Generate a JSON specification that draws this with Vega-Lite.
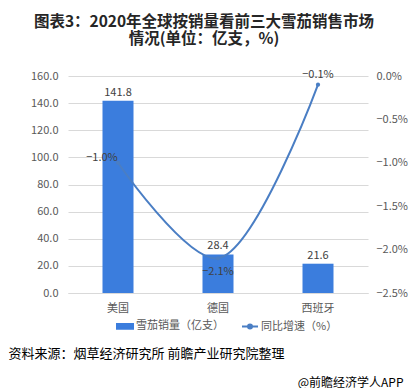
{
  "$schema": "https://vega.github.io/schema/vega-lite/v6.json",
  "autosize": {"type": "none"},
  "width": 300,
  "height": 217,
  "padding": {"left": 68, "top": 76, "right": 41, "bottom": 95},
  "background": "white",
  "config": {
    "font": "Noto Sans CJK SC",
    "view": {"stroke": null},
    "axis": {"labelFont": "Noto Sans CJK SC", "labelFontSize": 11, "labelColor": "#595959", "labelOverlap": false},
    "axisY": {"labelOverlap": false},
    "axisQuantitative": {"labelOverlap": false}
  },
  "title": {
    "text": ["图表3：2020年全球按销量看前三大雪茄销售市场", "情况(单位：亿支，%)"],
    "font": "Noto Sans CJK SC",
    "fontSize": 15.5,
    "fontWeight": "bold",
    "color": "#262626",
    "lineHeight": 17,
    "anchor": "middle",
    "dx": -14,
    "offset": 21
  },
  "data": {
    "values": [
      {"country": "美国", "sales": 141.8, "growth": -0.010},
      {"country": "德国", "sales": 28.4, "growth": -0.021},
      {"country": "西班牙", "sales": 21.6, "growth": -0.001}
    ]
  },
  "encoding": {
    "x": {
      "field": "country",
      "type": "nominal",
      "sort": null,
      "scale": {"paddingInner": 0.69, "paddingOuter": 0.345},
      "axis": {
        "labelAngle": 0,
        "ticks": false,
        "domain": true,
        "domainColor": "#d9d9d9",
        "labelPadding": 9,
        "title": "资料来源：烟草经济研究所 前瞻产业研究院整理",
        "titleFont": "Noto Sans CJK SC",
        "titleFontSize": 13,
        "titleFontWeight": "normal",
        "titleColor": "#000000",
        "titleAnchor": "start",
        "titleAlign": "left",
        "titleBaseline": "middle",
        "titleX": -60,
        "titleY": 60
      }
    }
  },
  "layer": [
    {
      "encoding": {
        "y": {
          "field": "sales",
          "type": "quantitative",
          "scale": {"domain": [0, 160]},
          "axis": {
            "values": [0, 20, 40, 60, 80, 100, 120, 140, 160],
            "format": ".1f",
            "grid": true,
            "gridColor": "#d9d9d9",
            "domain": false,
            "ticks": false,
            "labelOverlap": false,
            "labelPadding": 10,
            "title": null
          }
        }
      },
      "layer": [
        {
          "mark": {"type": "bar", "color": "#3b7ddd"},
          "encoding": {
            "color": {
              "datum": "雪茄销量（亿支）",
              "type": "nominal",
              "scale": {"domain": ["雪茄销量（亿支）", "同比增速（%）"], "range": ["#3b7ddd", "#4a7ec4"]},
              "legend": {
                "orient": "none",
                "legendX": 48,
                "legendY": 241,
                "direction": "horizontal",
                "title": null,
                "labelFont": "Noto Sans CJK SC",
                "labelFontSize": 11,
                "labelColor": "#595959",
                "symbolSize": 256,
                "columnPadding": 14,
                "symbolOffset": 0,
                "labelOffset": 2,
                "encode": {
                  "symbols": {
                    "update": {
                      "shape": {"signal": "datum.value === '雪茄销量（亿支）' ? 'M-1,-0.3H1V0.3H-1Z' : 'M-1,0H1M0.25,0A0.25,0.25 0 1,1 -0.25,0A0.25,0.25 0 1,1 0.25,0'"},
                      "fill": {"signal": "datum.value === '雪茄销量（亿支）' ? '#3b7ddd' : '#4a7ec4'"},
                      "stroke": {"signal": "datum.value === '雪茄销量（亿支）' ? 'transparent' : '#4a7ec4'"},
                      "strokeWidth": {"value": 2}
                    }
                  }
                }
              }
            }
          }
        },
        {
          "mark": {"type": "text", "dy": -8, "fontSize": 11, "color": "#404040", "font": "Noto Sans CJK SC"},
          "encoding": {
            "text": {"field": "sales", "type": "quantitative", "format": ".1f"}
          }
        }
      ]
    },
    {
      "encoding": {
        "y": {
          "field": "growth",
          "type": "quantitative",
          "scale": {"domain": [-0.025, 0]},
          "axis": {
            "orient": "right",
            "values": [-0.025, -0.02, -0.015, -0.01, -0.005, 0],
            "format": ".1%",
            "grid": false,
            "domain": false,
            "ticks": false,
            "labelOverlap": false,
            "labelPadding": 8,
            "title": "@前瞻经济学人APP",
            "titleFont": "Noto Sans CJK SC",
            "titleFontSize": 12,
            "titleFontWeight": "normal",
            "titleColor": "#000000",
            "titleAngle": 0,
            "titleAlign": "right",
            "titleBaseline": "middle",
            "titleX": 35,
            "titleY": 306
          }
        }
      },
      "layer": [
        {
          "mark": {"type": "line", "interpolate": "catmull-rom", "strokeWidth": 2, "color": "#4a7ec4", "point": {"filled": true, "size": 18, "color": "#4a7ec4"}},
          "encoding": {
            "color": {"datum": "同比增速（%）", "type": "nominal"}
          }
        },
        {
          "transform": [{"filter": "datum.country === '美国'"}],
          "mark": {"type": "text", "dx": -16, "dy": -5, "fontSize": 11, "color": "#404040"},
          "encoding": {
            "text": {"field": "growth", "type": "quantitative", "format": ".1%"}
          }
        },
        {
          "transform": [{"filter": "datum.country === '德国'"}],
          "mark": {"type": "text", "dx": 0, "dy": 14, "fontSize": 11, "color": "#404040"},
          "encoding": {
            "text": {"field": "growth", "type": "quantitative", "format": ".1%"}
          }
        },
        {
          "transform": [{"filter": "datum.country === '西班牙'"}],
          "mark": {"type": "text", "dx": 0, "dy": -10, "fontSize": 11, "color": "#404040"},
          "encoding": {
            "text": {"field": "growth", "type": "quantitative", "format": ".1%"}
          }
        }
      ]
    }
  ],
  "resolve": {"scale": {"y": "independent"}}
}
